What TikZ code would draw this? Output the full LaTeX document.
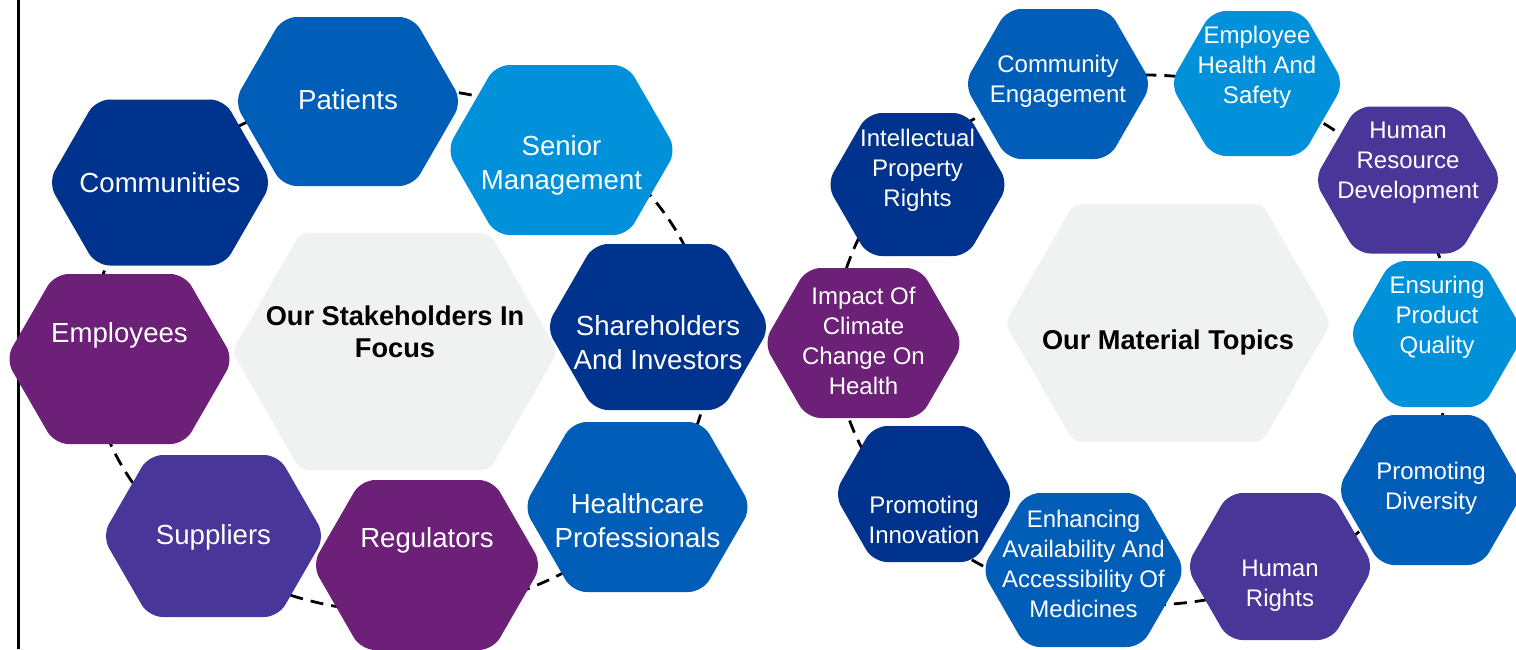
\documentclass[tikz,border=0pt]{standalone}
\usepackage{fontspec}
\setmainfont{Liberation Sans}
\usetikzlibrary{calc}

\definecolor{hexnavy}{HTML}{00338D}
\definecolor{hexblue}{HTML}{005EB8}
\definecolor{hexsky}{HTML}{0091DA}
\definecolor{hexplum}{HTML}{6D2077}
\definecolor{hexviolet}{HTML}{483698}
\definecolor{hexgrey}{HTML}{F0F1F1}

% name, fill, text style, x, y, half width, half height, text y, text
\newcommand{\hexcell}[9]{%
  \fill[rounded corners=7pt, #2] ({#4-#6},#5) -- ({#4-#6+0.577*#7},{#5-#7})
    -- ({#4+#6-0.577*#7},{#5-#7}) -- ({#4+#6},#5)
    -- ({#4+#6-0.577*#7},{#5+#7}) -- ({#4-#6+0.577*#7},{#5+#7}) -- cycle;
  \node[#3] (#1) at (#4,#8) {#9};}

\begin{document}
\begin{tikzpicture}[
  x=0.5pt, y=-0.5pt,
  hexbig/.style={text=white, align=center, inner sep=0pt, yshift=-1pt, font=\fontsize{13.8}{17}\selectfont},
  hexsmall/.style={text=white, align=center, inner sep=0pt, yshift=-1pt, font=\fontsize{12}{15}\selectfont},
  hextitle/.style={text=black, align=center, inner sep=0pt, yshift=-1pt, font=\fontsize{13.6}{16}\selectfont\bfseries},
  ring/.style={draw=black, line width=1.4pt, dash pattern=on 6.5pt off 4pt}
]
\useasboundingbox (0,0) rectangle (1516,649);

% Side rule
\coordinate (ruletop) at (18.5,0);
\coordinate (rulebot) at (18.5,649);
\draw[line width=1.5pt] (ruletop) -- (rulebot);

% Dashed rings
\draw[ring] (400,350) ellipse [x radius=155pt, y radius=131pt];
\draw[ring] (1145,340) ellipse [x radius=155pt, y radius=132.5pt];

% Stakeholders
\hexcell{stakeholders}{hexgrey, rounded corners=4pt}{hextitle}{395}{351.5}{163}{118.5}{330}{Our Stakeholders In\\Focus}
\hexcell{patients}{hexblue}{hexbig}{348}{101.5}{114}{84.5}{98}{Patients}
\hexcell{communities}{hexnavy}{hexbig}{160}{182.5}{112}{83}{181}{Communities}
\hexcell{senior}{hexsky}{hexbig}{561.5}{150}{115}{85}{163}{Senior\\Management}
\hexcell{employees}{hexplum}{hexbig}{119.5}{359}{114}{85}{333}{Employees}
\hexcell{shareholders}{hexnavy}{hexbig}{658}{327}{112}{83}{341}{Shareholders\\And Investors}
\hexcell{healthcare}{hexblue}{hexbig}{637.5}{507}{114}{85}{519}{Healthcare\\Professionals}
\hexcell{regulators}{hexplum}{hexbig}{427}{565}{115}{85}{538}{Regulators}
\hexcell{suppliers}{hexviolet}{hexbig}{213.5}{536}{111.5}{81}{535}{Suppliers}

% Material topics
\hexcell{material}{hexgrey, rounded corners=4pt}{hextitle}{1168}{323}{163}{119}{340}{Our Material Topics}
\hexcell{ipr}{hexnavy}{hexsmall}{917.5}{184.5}{91}{71.5}{168}{Intellectual\\Property\\Rights}
\hexcell{community}{hexblue}{hexsmall}{1058}{84}{94}{75}{79}{Community\\Engagement}
\hexcell{safety}{hexsky}{hexsmall}{1257}{83.5}{87}{72.5}{65}{Employee\\Health And\\Safety}
\hexcell{hrd}{hexviolet}{hexsmall}{1408}{180}{94}{73.5}{161}{Human\\Resource\\Development}
\hexcell{quality}{hexsky}{hexsmall}{1437}{334}{88}{73}{315}{Ensuring\\Product\\Quality}
\hexcell{diversity}{hexblue}{hexsmall}{1431}{490}{94}{75}{486}{Promoting\\Diversity}
\hexcell{rights}{hexviolet}{hexsmall}{1280}{566.5}{94}{73.5}{584}{Human\\Rights}
\hexcell{access}{hexblue}{hexsmall}{1083.5}{570}{102}{77}{562}{Enhancing\\Availability And\\Accessibility Of\\Medicines}
\hexcell{innovation}{hexnavy}{hexsmall}{924}{494}{90}{68}{518}{Promoting\\Innovation}
\hexcell{climate}{hexplum}{hexsmall}{863.5}{343}{100}{75}{339}{Impact Of\\Climate\\Change On\\Health}
\end{tikzpicture}
\end{document}
